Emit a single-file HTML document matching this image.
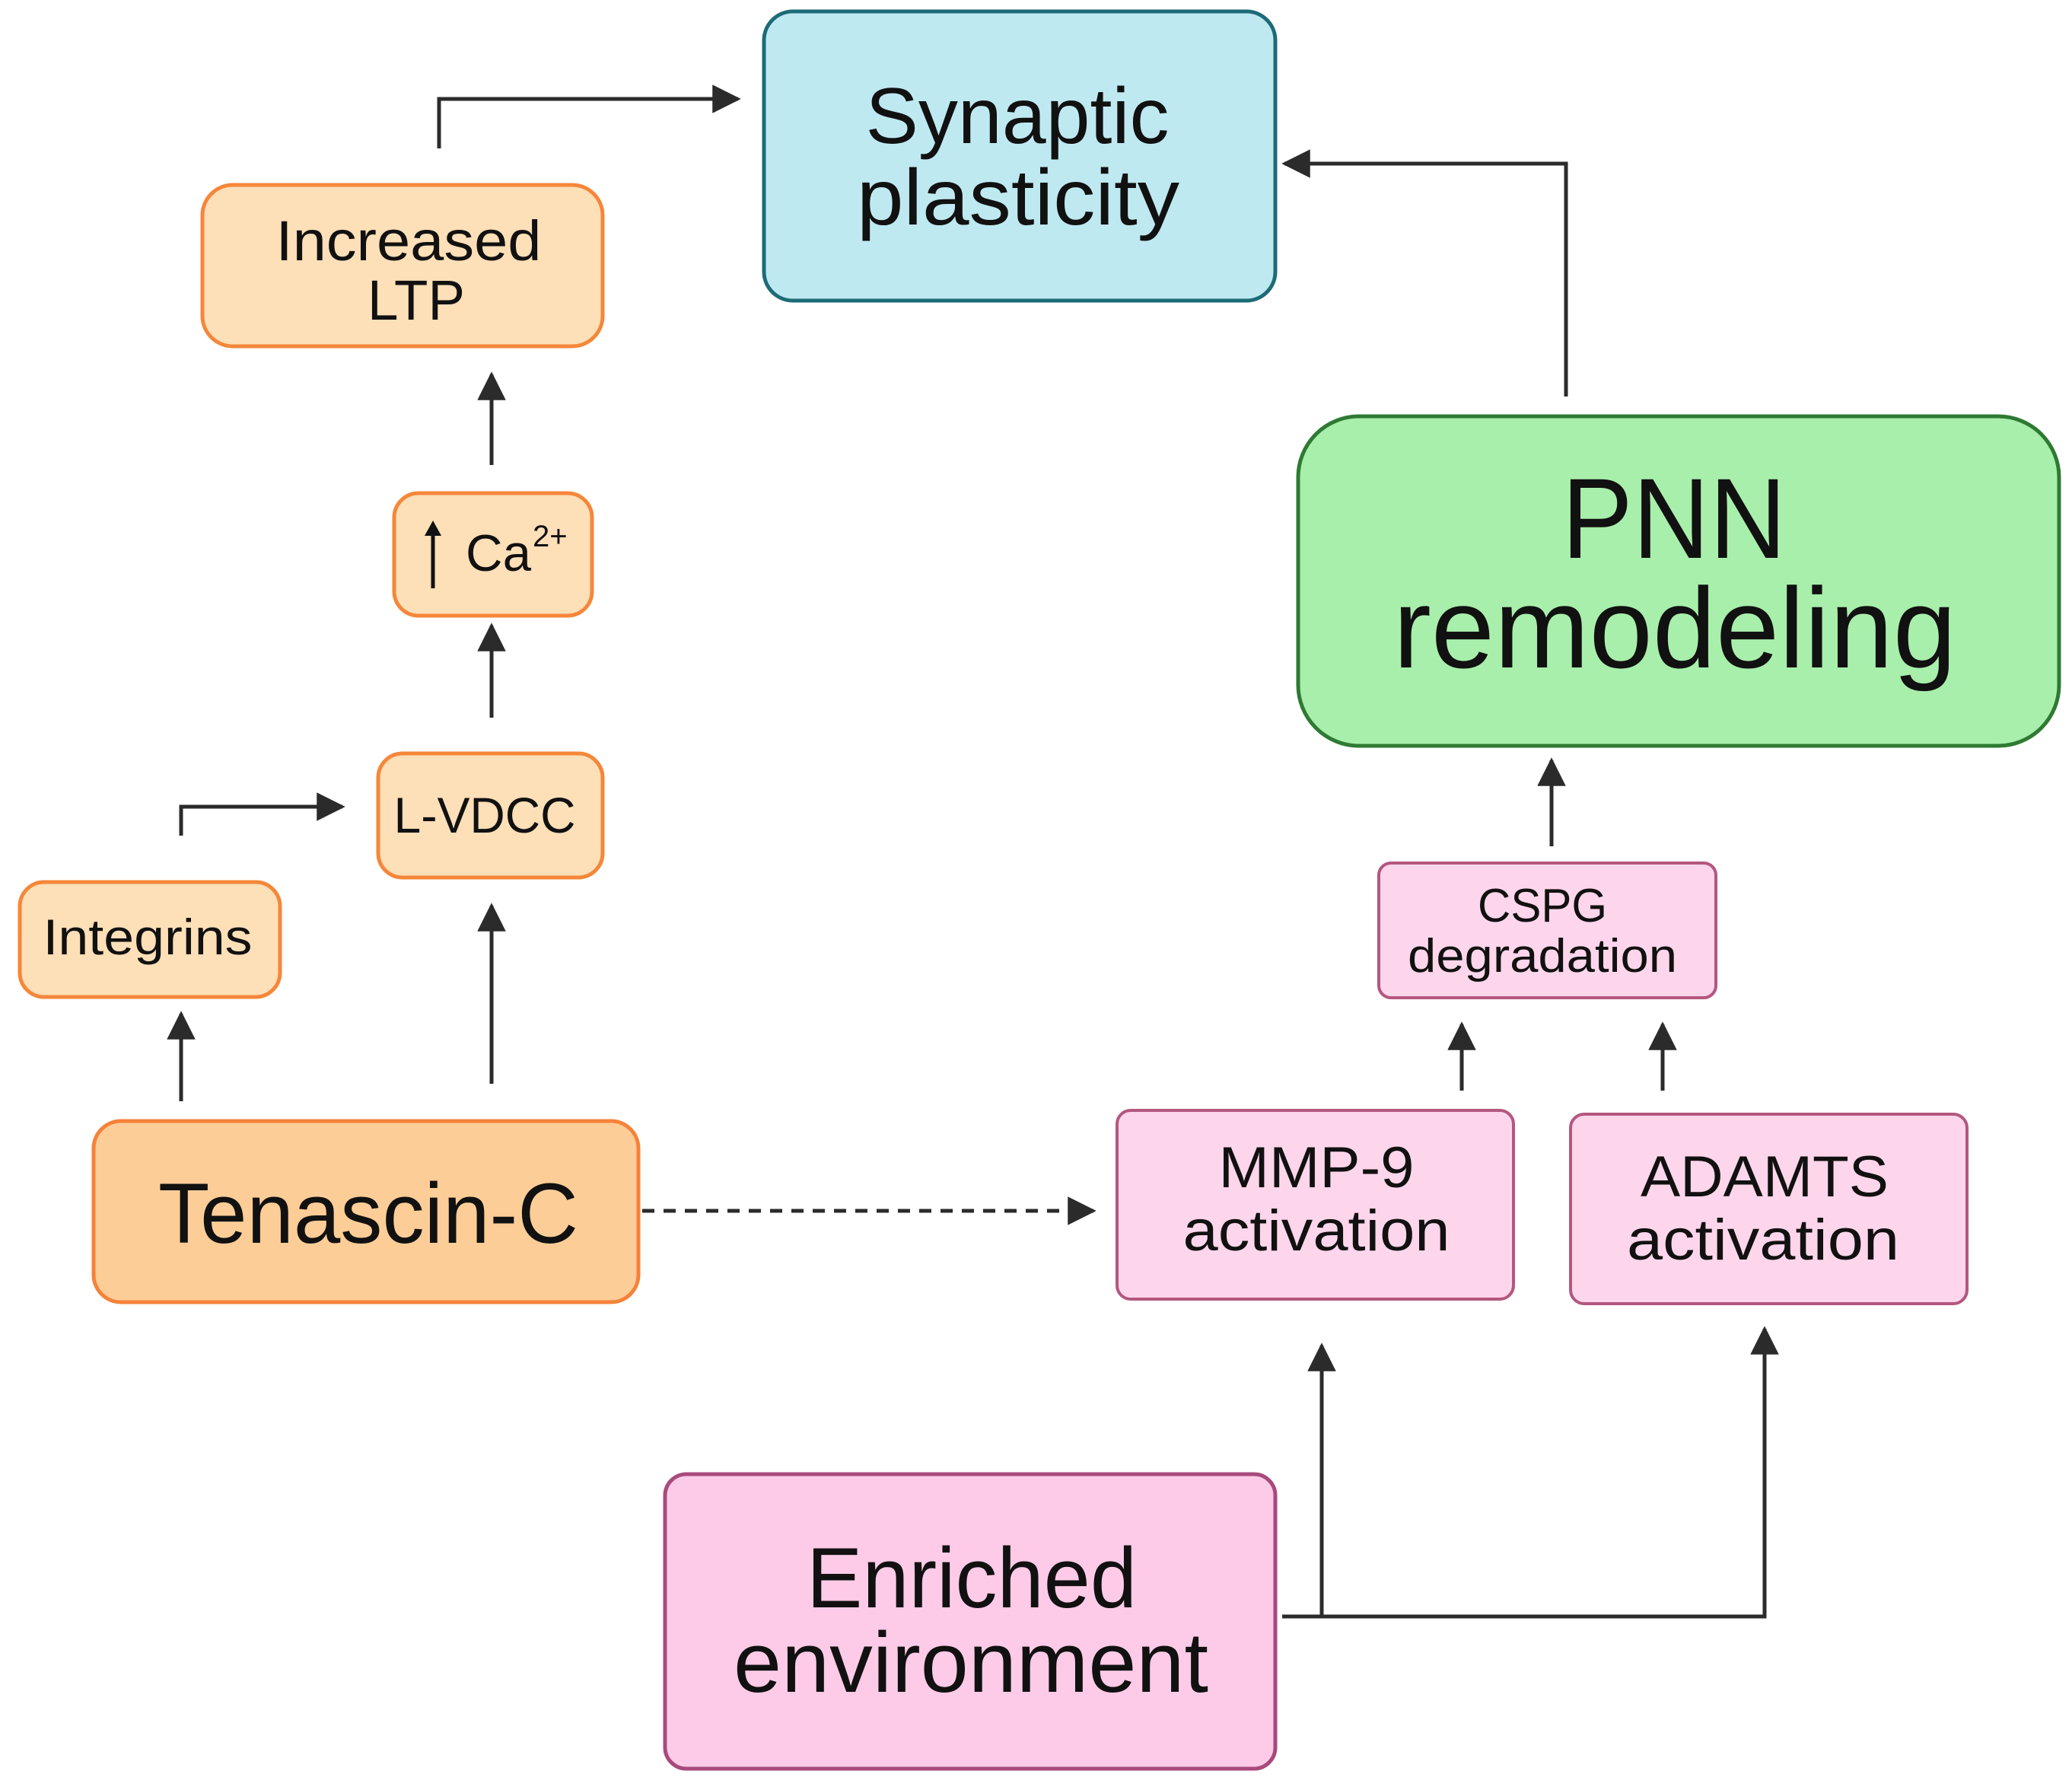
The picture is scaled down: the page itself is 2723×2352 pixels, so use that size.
<!DOCTYPE html>
<html><head><meta charset="utf-8"><style>html,body{margin:0;padding:0;background:#fff}svg{display:block}</style></head>
<body>
<svg width="2723" height="2352" viewBox="0 0 2723 2352" xmlns="http://www.w3.org/2000/svg" font-family="Liberation Sans, sans-serif" fill="#111">
<defs>
<marker id="ah" viewBox="0 0 10 10" refX="9" refY="5" markerWidth="8" markerHeight="7.5" orient="auto" markerUnits="strokeWidth"><path d="M0,0 L10,5 L0,10 z" fill="#2b2b2b"/></marker>
</defs>
<rect x="1004" y="15" width="672" height="380" rx="38" fill="#bfe9f1" stroke="#1e6b78" stroke-width="5"/>
<rect x="266" y="243" width="526" height="212" rx="40" fill="#fddfb8" stroke="#f5873a" stroke-width="5"/>
<rect x="518" y="648" width="260" height="161" rx="32" fill="#fddfb8" stroke="#f5873a" stroke-width="5"/>
<rect x="497" y="990" width="295" height="163" rx="32" fill="#fddfb8" stroke="#f5873a" stroke-width="5"/>
<rect x="26" y="1159" width="342" height="151" rx="32" fill="#fddfb8" stroke="#f5873a" stroke-width="5"/>
<rect x="123" y="1473" width="716" height="238" rx="36" fill="#fdcd98" stroke="#f5823a" stroke-width="5"/>
<rect x="1468" y="1459" width="521" height="248" rx="18" fill="#fdd6ec" stroke="#b4577f" stroke-width="4"/>
<rect x="2064" y="1464" width="521" height="249" rx="18" fill="#fdd6ec" stroke="#b4577f" stroke-width="4"/>
<rect x="1812" y="1134" width="443" height="177" rx="16" fill="#fdd6ec" stroke="#b4577f" stroke-width="4"/>
<rect x="1706" y="547" width="1000" height="433" rx="80" fill="#a8efab" stroke="#2f7a33" stroke-width="5"/>
<rect x="874" y="1937" width="802" height="387" rx="28" fill="#fdcbe7" stroke="#a84a7c" stroke-width="5"/>
<g text-anchor="middle">
<text x="1337" y="188" font-size="104" textLength="399" lengthAdjust="spacingAndGlyphs">Synaptic</text>
<text x="1338" y="295" font-size="104" textLength="424" lengthAdjust="spacingAndGlyphs">plasticity</text>
<text x="537" y="342" font-size="74" textLength="349" lengthAdjust="spacingAndGlyphs">Increased</text>
<text x="547" y="420" font-size="74" textLength="128" lengthAdjust="spacingAndGlyphs">LTP</text>
<text x="637" y="1094" font-size="66" textLength="239" lengthAdjust="spacingAndGlyphs">L-VDCC</text>
<text x="194" y="1254" font-size="66" textLength="275" lengthAdjust="spacingAndGlyphs">Integrins</text>
<text x="484" y="1633" font-size="112" textLength="552" lengthAdjust="spacingAndGlyphs">Tenascin-C</text>
<text x="1730" y="1560" font-size="76" textLength="257" lengthAdjust="spacingAndGlyphs">MMP-9</text>
<text x="1730" y="1643" font-size="76" textLength="351" lengthAdjust="spacingAndGlyphs">activation</text>
<text x="2319" y="1572" font-size="76" textLength="326" lengthAdjust="spacingAndGlyphs">ADAMTS</text>
<text x="2317" y="1655" font-size="76" textLength="358" lengthAdjust="spacingAndGlyphs">activation</text>
<text x="2027" y="1211" font-size="62" textLength="170" lengthAdjust="spacingAndGlyphs">CSPG</text>
<text x="2027" y="1277" font-size="62" textLength="354" lengthAdjust="spacingAndGlyphs">degradation</text>
<text x="2200" y="733" font-size="150" textLength="295" lengthAdjust="spacingAndGlyphs">PNN</text>
<text x="2201" y="877" font-size="150" textLength="740" lengthAdjust="spacingAndGlyphs">remodeling</text>
<text x="1277" y="2112" font-size="112" textLength="434" lengthAdjust="spacingAndGlyphs">Enriched</text>
<text x="1276" y="2223" font-size="112" textLength="624" lengthAdjust="spacingAndGlyphs">environment</text>
</g>
<text x="612" y="750" font-size="68" textLength="86" lengthAdjust="spacingAndGlyphs">Ca</text>
<text x="700" y="718" font-size="40">2+</text>
<line x1="569" y1="773" x2="569" y2="700" stroke="#111" stroke-width="5"/>
<path d="M558,704 L569,684 L580,704 z" fill="#111"/>
<g stroke="#2b2b2b" stroke-width="5" fill="none" marker-end="url(#ah)">
<path d="M577,195 L577,130 L970,130"/>
<path d="M2058,521 L2058,215 L1688,215"/>
<path d="M646,611 L646,492"/>
<path d="M646,943 L646,822"/>
<path d="M238,1098 L238,1060 L450,1060"/>
<path d="M646,1424 L646,1190"/>
<path d="M238,1447 L238,1332"/>
<path d="M844,1591 L1437,1591" stroke-dasharray="16,12"/>
<path d="M1921,1433 L1921,1346"/>
<path d="M2185,1433 L2185,1346"/>
<path d="M2039,1112 L2039,999"/>
<path d="M1737,2124 L1737,1768"/>
<path d="M1685,2124 L2319,2124 L2319,1746"/>
</g>
</svg>
</body></html>
